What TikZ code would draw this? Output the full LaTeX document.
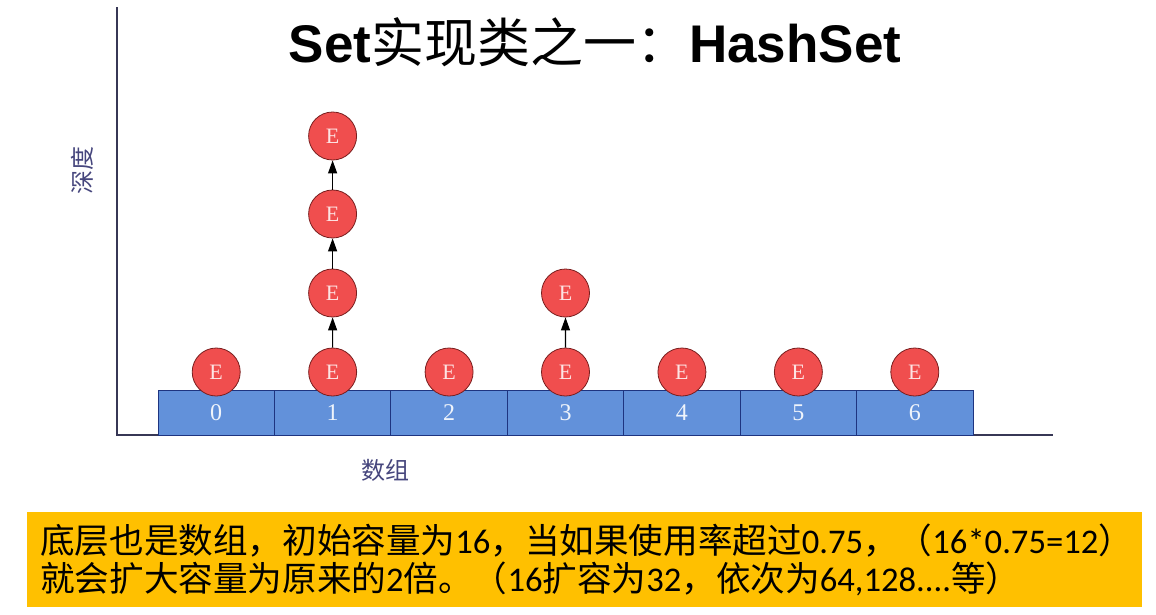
\documentclass[tikz,border=0pt]{standalone}
\usepackage{fontspec}
\setmainfont{Liberation Serif}
\newfontfamily\cjk{Noto Sans CJK SC}
\newfontfamily\latinsans{Liberation Sans}
\newfontfamily\calib{Carlito}
\usetikzlibrary{arrows.meta, positioning}
\definecolor{SlotBlue}{RGB}{98, 145, 218}
\definecolor{SlotBorder}{RGB}{30, 52, 128}
\definecolor{EntryRed}{RGB}{240, 78, 78}
\definecolor{EntryBorder}{RGB}{120, 30, 30}
\definecolor{AxisGray}{RGB}{55, 55, 85}
\definecolor{LabelNavy}{RGB}{70, 70, 125}
\definecolor{NoteYellow}{RGB}{255, 192, 0}
\tikzset{
  slot/.style={rectangle, draw=SlotBorder, fill=SlotBlue, line width=1pt,
    minimum width=116.4pt, minimum height=45pt, inner sep=0pt,
    text=white!90!SlotBlue, font=\fontsize{24}{26}\selectfont},
  entry/.style={circle, draw=EntryBorder, fill=EntryRed, line width=0.8pt,
    minimum size=48pt, inner sep=0pt,
    text=white!85!EntryRed, font=\fontsize{22}{24}\selectfont},
  chainarrow/.style={-{Triangle[width=9pt, length=13pt]}, line width=1.2pt, black}
}
\begin{document}
\begin{tikzpicture}[x=1pt, y=-1pt]
  \useasboundingbox (0,0) rectangle (1156,614);
  % title
  \node (title) at (595,42) {\fontsize{53}{58}\selectfont
    {\latinsans\bfseries Set}{\cjk 实现类之一：}{\latinsans\bfseries HashSet}};
  % axes
  \coordinate (origin) at (117,435);
  \coordinate (ytop) at (117,7);
  \coordinate (xend) at (1053,435);
  \draw[AxisGray, line width=2.5pt] (ytop) -- (origin) -- (xend);
  \node[rotate=90, text=LabelNavy, font=\cjk\fontsize{24}{26}\selectfont] (depth) at (82,170) {深度};
  \node[text=LabelNavy, font=\cjk\fontsize{24}{26}\selectfont] (arr) at (385,470) {数组};
  % array slots and first entries
  \foreach \i in {0,...,6} {
    \node[slot] (c\i) at ({158+116.43*(\i+0.5)},412.5) {\i};
    \node[entry] (e\i) at ({158+116.43*(\i+0.5)},372) {E};
  }
  % chains
  \node[entry] (e1b) at (332.6,293) {E};
  \node[entry] (e1c) at (332.6,214) {E};
  \node[entry] (e1d) at (332.6,136) {E};
  \node[entry] (e3b) at (565.5,293) {E};
  \draw[chainarrow] (e1) -- (e1b);
  \draw[chainarrow] (e1b) -- (e1c);
  \draw[chainarrow] (e1c) -- (e1d);
  \draw[chainarrow] (e3) -- (e3b);
  % note
  \node[fill=NoteYellow, minimum width=1115pt, minimum height=95pt, inner sep=0pt,
    anchor=north west] (notebg) at (27,512) {};
  \node[anchor=west, align=left, inner sep=0pt, font=\fontsize{34.6}{38}\selectfont\calib] (note) at (40,559.5) {%
    {\cjk 底层也是数组，初始容量为}16{\cjk ，当如果使用率超过}0.75{\cjk ，（}16*0.75=12{\cjk ）}\\
    {\cjk 就会扩大容量为原来的}2{\cjk 倍。（}16{\cjk 扩容为}32{\cjk ，依次为}64,128....{\cjk 等）}};
\end{tikzpicture}
\end{document}
